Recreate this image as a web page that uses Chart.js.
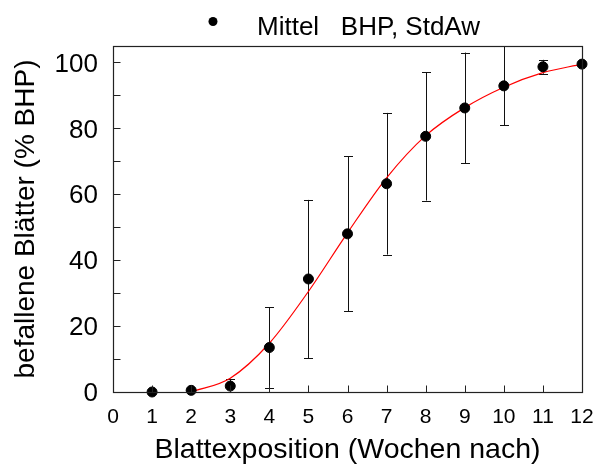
<!DOCTYPE html>
<html>
<head>
<meta charset="utf-8">
<script src="https://cdn.jsdelivr.net/npm/chart.js@4"></script>
<style>
  body { margin: 0; background: #fff; }
  canvas { display: block; }
</style>
</head>
<body>
<canvas id="chart" width="600" height="470"></canvas>
<script>
// Wochen, Mittelwerte (% BHP) und Standardabweichung
const weeks = [1, 2, 3, 4, 5, 6, 7, 8, 9, 10, 11, 12];
const means = [0, 0.5, 1.8, 13.5, 34.3, 48, 63.2, 77.6, 86.2, 92.9, 98.7, 99.5];
const stdDev = [0, 0, 2.2, 12.2, 24, 23.5, 21.5, 19.5, 16.8, 12, 2.1, 0];

// angepasste Kurve (rot)
const fitX = [2, 3, 4, 5, 6, 7, 8, 9, 10, 11, 12];
const fitY = [0, 4.2, 14.8, 30.5, 48.3, 65, 77.8, 86.3, 92.5, 96.9, 99.5];

const xTicks = [0, 1, 2, 3, 4, 5, 6, 7, 8, 9, 10, 11, 12];
const yLabels = [0, 20, 40, 60, 80, 100];
const yMinor = [0, 10, 20, 30, 40, 50, 60, 70, 80, 90, 100];

const legendText = 'Mittel   BHP, StdAw';
const FONT = '"Liberation Sans", Arial, sans-serif';

const errorBarsAndFrame = {
    id: 'errorBarsAndFrame',
    beforeDatasetsDraw(chart) {
        const { ctx, chartArea, scales } = chart;
        ctx.save();
        ctx.beginPath();
        ctx.rect(chartArea.left, chartArea.top, chartArea.right - chartArea.left, chartArea.bottom - chartArea.top);
        ctx.clip();
        ctx.strokeStyle = '#111';
        ctx.lineWidth = 1;
        weeks.forEach((w, i) => {
            if (!stdDev[i]) return;
            const x = Math.round(scales.x.getPixelForValue(w)) + 0.5;
            const yHi = scales.y.getPixelForValue(means[i] + stdDev[i]);
            const yLo = scales.y.getPixelForValue(means[i] - stdDev[i]);
            ctx.beginPath();
            ctx.moveTo(x, yHi);
            ctx.lineTo(x, yLo);
            ctx.moveTo(x - 4.5, Math.round(yHi) + 0.5);
            ctx.lineTo(x + 4.5, Math.round(yHi) + 0.5);
            ctx.moveTo(x - 4.5, Math.round(yLo) + 0.5);
            ctx.lineTo(x + 4.5, Math.round(yLo) + 0.5);
            ctx.stroke();
        });
        ctx.restore();
    },
    afterDraw(chart) {
        const { ctx, chartArea, scales } = chart;
        const L = Math.round(chartArea.left) + 0.5;
        const R = Math.round(chartArea.right) + 0.5;
        const T = Math.round(chartArea.top) + 0.5;
        const B = Math.round(chartArea.bottom) + 0.5;
        ctx.save();
        ctx.strokeStyle = '#222';
        ctx.lineWidth = 1.2;
        ctx.strokeRect(L, T, R - L, B - T);

        // Ticks nach innen
        ctx.lineWidth = 1;
        ctx.beginPath();
        xTicks.forEach(v => {
            const x = Math.round(scales.x.getPixelForValue(v)) + 0.5;
            ctx.moveTo(x, B);
            ctx.lineTo(x, B - 7);
        });
        yMinor.forEach(v => {
            const y = Math.round(scales.y.getPixelForValue(v)) + 0.5;
            ctx.moveTo(L, y);
            ctx.lineTo(L + 7, y);
        });
        ctx.stroke();

        // Legende
        ctx.fillStyle = '#000';
        ctx.beginPath();
        ctx.arc(213, 21.5, 4.5, 0, Math.PI * 2);
        ctx.fill();
        ctx.font = '26px ' + FONT;
        ctx.textBaseline = 'alphabetic';
        ctx.textAlign = 'left';
        ctx.fillText(legendText, 257, 35);
        ctx.restore();
    }
};

new Chart(document.getElementById('chart'), {
    data: {
        datasets: [
            {
                type: 'line',
                label: 'Anpassung',
                data: fitX.map((x, i) => ({ x: x, y: fitY[i] })),
                borderColor: '#ff0000',
                borderWidth: 1.2,
                pointRadius: 0,
                cubicInterpolationMode: 'monotone',
                fill: false,
                order: 2
            },
            {
                type: 'scatter',
                label: legendText,
                data: weeks.map((w, i) => ({ x: w, y: means[i] })),
                backgroundColor: '#000',
                borderColor: '#000',
                pointRadius: 5,
                clip: false,
                order: 1
            }
        ]
    },
    options: {
        responsive: false,
        animation: false,
        layout: { padding: { top: 46, right: 18, left: 0, bottom: 0 } },
        plugins: {
            legend: { display: false },
            tooltip: { enabled: false }
        },
        scales: {
            x: {
                type: 'linear',
                min: 0,
                max: 12,
                afterBuildTicks: s => { s.ticks = xTicks.map(v => ({ value: v })); },
                afterFit: s => { s.height = 78; s.paddingLeft = 0; s.paddingRight = 0; },
                grid: { display: false, drawTicks: false },
                border: { display: false },
                ticks: { color: '#000', padding: 13, maxRotation: 0, autoSkip: false, font: { family: FONT, size: 21 } },
                title: {
                    display: true,
                    text: 'Blattexposition (Wochen nach)',
                    color: '#000',
                    font: { family: FONT, size: 28.5, lineHeight: 1 },
                    padding: { top: 0, bottom: 6 }
                }
            },
            y: {
                type: 'linear',
                min: 0,
                max: 105,
                afterBuildTicks: s => { s.ticks = yLabels.map(v => ({ value: v })); },
                afterFit: s => { s.width = 113; s.paddingTop = 0; s.paddingBottom = 0; },
                grid: { display: false, drawTicks: false },
                border: { display: false },
                ticks: { color: '#000', padding: 15, labelOffset: 2, font: { family: FONT, size: 26 } },
                title: {
                    display: true,
                    text: 'befallene Blätter (% BHP)',
                    color: '#000',
                    font: { family: FONT, size: 28, lineHeight: 1 },
                    padding: { top: 12, bottom: 0 }
                }
            }
        }
    },
    plugins: [errorBarsAndFrame]
});
</script>
</body>
</html>
